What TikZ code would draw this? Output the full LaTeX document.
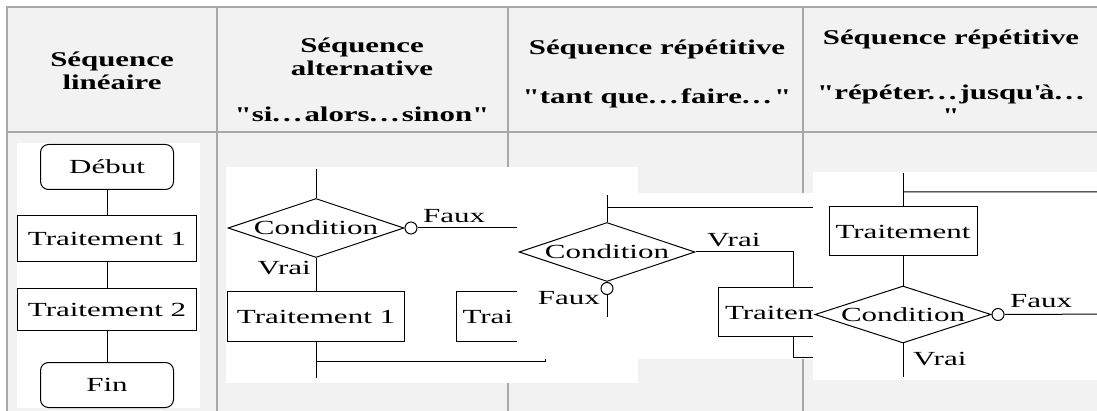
\documentclass[tikz,border=0pt]{standalone}
\usepackage{fontspec}
\setmainfont{Liberation Serif}
\newfontfamily\titrefont[FakeStretch=1.47]{Liberation Serif}
\newfontfamily\schemafont[FakeStretch=1.55]{Liberation Serif}
\usetikzlibrary{shapes.geometric, positioning, calc}
\definecolor{fondcase}{HTML}{F2F2F2}
\definecolor{bordcase}{HTML}{A8A8A8}
\newcommand\troispts{.\kern3pt.\kern3pt.\kern3pt}

\begin{document}
\begin{tikzpicture}[
  x=1pt, y=-1pt,
  trait/.style={
    line width=1pt,
    draw=black
  },
  regle/.style={
    line width=2pt,
    draw=bordcase
  },
  cadre/.style={
    fill=white
  },
  titre/.style={
    font=\titrefont\bfseries\fontsize{21}{23}\selectfont,
    anchor=base,
    inner sep=0pt
  },
  boite/.style={
    draw,
    rectangle,
    line width=1pt,
    fill=white,
    inner sep=0pt,
    font=\schemafont\fontsize{20}{22}\selectfont
  },
  terminal/.style={
    boite,
    rounded corners=8pt,
    minimum width=133pt,
    minimum height=45pt
  },
  losange/.style={
    draw,
    diamond,
    line width=1pt,
    fill=white,
    inner sep=0pt,
    minimum width=176pt,
    minimum height=59pt
  },
  rond/.style={
    draw,
    circle,
    line width=1pt,
    fill=white,
    inner sep=0pt,
    minimum size=12pt
  },
  etiquette/.style={
    font=\schemafont\fontsize{20}{22}\selectfont,
    inner sep=0pt,
    anchor=base west
  }
]
  \useasboundingbox (0,0) rectangle (1097,411);
  \fill[white] (0,0) rectangle (1097,411);

  % tableau
  \fill[fondcase] (7,7) rectangle (1115,420);
  \draw[regle] (7,420) -- (7,7) -- (1115,7);
  \draw[regle] (7,132) -- (1115,132);
  \foreach \x in {217,508,803} {
    \draw[regle] (\x,7) -- (\x,420);
  }

  % en-tetes
  \node[titre] (h1a) at (112,67) {Séquence};
  \node[titre] (h1b) at (112,90) {linéaire};
  \node[titre] (h2a) at (362,53) {Séquence};
  \node[titre] (h2b) at (362,76) {alternative};
  \node[titre] (h2c) at (362,122) {"si\troispts alors\troispts sinon"};
  \node[titre] (h3a) at (657,55) {Séquence répétitive};
  \node[titre] (h3b) at (657,104) {"tant que\troispts faire\troispts"};
  \node[titre] (h4a) at (951,45) {Séquence répétitive};
  \node[titre] (h4b) at (952,100) {"répéter\troispts jusqu\textquotesingle à\troispts};
  \node[titre] (h4c) at (951,123) {"};

  % sequence lineaire
  \fill[cadre] (17,143) rectangle (200,408);
  \node[terminal] (debut) at (107,167) {Début};
  \node[boite, minimum width=179pt, minimum height=46pt] (trt1) at (107,239) {Traitement 1};
  \node[boite, minimum width=179pt, minimum height=42pt] (trt2) at (107,310) {Traitement 2};
  \node[terminal] (fin) at (107,385) {Fin};
  \draw[trait] (debut) -- (trt1);
  \draw[trait] (trt1) -- (trt2);
  \draw[trait] (trt2) -- (fin);

  % si alors sinon
  \fill[cadre] (226,167) rectangle (638,383);
  \coordinate (haut2) at (316,169);
  \coordinate (jonc2) at (316,361);
  \coordinate (bas2) at (316,378);
  \node[losange] (cond2) at (316,228) {};
  \node[etiquette, anchor=center] (txt2) at (cond2) {Condition};
  \node[rond, anchor=west] (rond2) at (cond2.east) {};
  \node[boite, minimum width=177pt, minimum height=50pt] (trt21) at (316,317) {Traitement 1};
  \node[boite, minimum width=177pt, minimum height=50pt, inner xsep=6pt,
    text width=165pt, align=left] (trt22) at (545,317) {Trai};
  \draw[trait] (haut2) -- (cond2.north);
  \draw[trait] (cond2.south) -- (trt21.north);
  \draw[trait] (rond2.east) -| (trt22.north);
  \draw[trait] (trt21.south) -- (bas2);
  \draw[trait] (trt22.south) |- (jonc2);
  \node[etiquette] (faux2) at (423,223) {Faux};
  \node[etiquette, anchor=base east] (vrai2) at (311,275) {Vrai};

  % tant que faire
  \fill[cadre] (517,193) rectangle (830,359);
  \coordinate (haut3) at (607,195);
  \coordinate (boucle3) at (607,208);
  \coordinate (bas3) at (607,317);
  \coordinate (retour3) at (840,357);
  \node[losange] (cond3) at (607,252) {};
  \node[etiquette, anchor=center] (txt3) at (cond3) {Condition};
  \node[rond, anchor=north] (rond3) at (cond3.south) {};
  \node[boite, minimum width=150pt, minimum height=49pt, inner xsep=7pt,
    text width=136pt, align=left] (trt3) at (793,312.5) {Traitem};
  \draw[trait] (haut3) -- (cond3.north);
  \draw[trait] (rond3) -- (bas3);
  \draw[trait] (cond3.east) -| (trt3.north);
  \draw[trait] (trt3.south) |- (retour3) |- (boucle3);
  \node[etiquette] (vrai3) at (707,247) {Vrai};
  \node[etiquette, anchor=base east] (faux3) at (600,305) {Faux};

  % repeter jusqu'a
  \fill[cadre] (813,172) rectangle (1115,380);
  \coordinate (haut4) at (903,173);
  \coordinate (boucle4) at (903,192);
  \coordinate (bas4) at (903,377);
  \coordinate (coin4) at (1120,314);
  \node[boite, minimum width=148pt, minimum height=49pt] (trt4) at (903,231.5) {Traitement};
  \node[losange, minimum height=57pt] (cond4) at (903,314.5) {};
  \node[etiquette, anchor=center] (txt4) at (cond4) {Condition};
  \node[rond, anchor=west] (rond4) at (cond4.east) {};
  \draw[trait] (haut4) -- (trt4.north);
  \draw[trait] (trt4) -- (cond4);
  \draw[trait] (cond4.south) -- (bas4);
  \draw[trait] (rond4.east) -- (coin4) |- (boucle4);
  \node[etiquette] (faux4) at (1010,308) {Faux};
  \node[etiquette] (vrai4) at (913,365) {Vrai};
\end{tikzpicture}
\end{document}
